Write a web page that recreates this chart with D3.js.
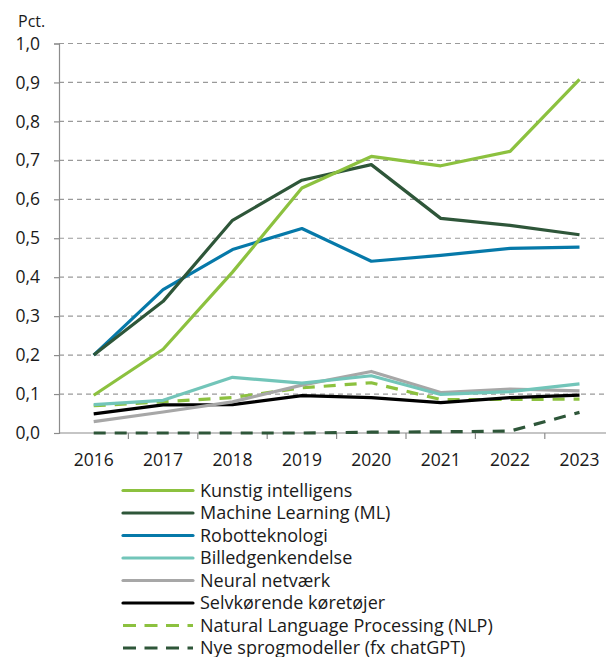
<!DOCTYPE html>
<html>
<head>
<meta charset="utf-8">
<script src="https://cdn.jsdelivr.net/npm/d3@7"></script>
<style>
  body { margin: 0; background: #fff; }
  svg { font-family: "Open Sans", "Noto Sans", sans-serif; }
</style>
</head>
<body>
<div id="chart"></div>
<script>
// Data
const years = ["2016", "2017", "2018", "2019", "2020", "2021", "2022", "2023"];
const yTicks = [0, 0.1, 0.2, 0.3, 0.4, 0.5, 0.6, 0.7, 0.8, 0.9, 1.0];

const kunstigIntelligens = [0.097, 0.215, 0.413, 0.629, 0.710, 0.686, 0.723, 0.908];
const machineLearning    = [0.200, 0.338, 0.546, 0.649, 0.689, 0.551, 0.533, 0.509];
const robotteknologi     = [0.200, 0.368, 0.471, 0.525, 0.441, 0.456, 0.474, 0.477];
const billedgenkendelse  = [0.073, 0.084, 0.143, 0.128, 0.147, 0.099, 0.106, 0.126];
const neuralNetvaerk     = [0.029, 0.054, 0.080, 0.123, 0.158, 0.104, 0.113, 0.108];
const selvkoerende       = [0.049, 0.072, 0.073, 0.096, 0.091, 0.078, 0.091, 0.097];
const nlp                = [0.070, 0.080, 0.091, 0.116, 0.129, 0.086, 0.086, 0.087];
const nyeSprogmodeller   = [0.000, 0.000, 0.000, 0.000, 0.002, 0.003, 0.005, 0.053];

const series = [
    { name: "Kunstig intelligens", values: kunstigIntelligens, color: "#8cc13f", dash: null },
    { name: "Machine Learning (ML)", values: machineLearning, color: "#2e5639", dash: null },
    { name: "Robotteknologi", values: robotteknologi, color: "#0679a9", dash: null },
    { name: "Billedgenkendelse", values: billedgenkendelse, color: "#72c5b9", dash: null },
    { name: "Neural netværk", values: neuralNetvaerk, color: "#a7a7a7", dash: null },
    { name: "Selvkørende køretøjer", values: selvkoerende, color: "#000000", dash: null },
    { name: "Natural Language Processing (NLP)", values: nlp, color: "#8cc13f", dash: "12,9" },
    { name: "Nye sprogmodeller (fx chatGPT)", values: nyeSprogmodeller, color: "#2e5639", dash: "12,9" }
];

const width = 606, height = 657;
const margin = { left: 59, top: 43.5, bottom: 433 };

const svg = d3.select("#chart").append("svg")
    .attr("width", width)
    .attr("height", height);

const x = d3.scaleBand()
    .domain(years)
    .range([margin.left, margin.left + 8 * 69.4]);

const y = d3.scaleLinear()
    .domain([0, 1])
    .range([margin.bottom, margin.top]);

// Gridlines
svg.append("g")
    .selectAll("line")
    .data(yTicks.filter(d => d > 0))
    .join("line")
    .attr("x1", margin.left)
    .attr("x2", width)
    .attr("y1", d => y(d))
    .attr("y2", d => y(d))
    .attr("stroke", "#9a9a9a")
    .attr("stroke-width", 1.2)
    .attr("stroke-dasharray", "5,4");

// Y axis
const yAxis = svg.append("g")
    .attr("transform", `translate(${margin.left},0)`)
    .call(d3.axisLeft(y).tickValues(yTicks).tickSize(5).tickPadding(14)
        .tickFormat(d => d3.format(".1f")(d).replace(".", ",")));
yAxis.select(".domain").attr("stroke", "#8c8c8c").attr("stroke-width", 1.2);
yAxis.selectAll(".tick line").attr("stroke", "#8c8c8c").attr("stroke-width", 1.2);
yAxis.selectAll("text").attr("font-size", 17.5).attr("fill", "#1a1a1a")
    .attr("font-family", "'Open Sans', 'Noto Sans', sans-serif");

svg.append("text")
    .attr("x", 18)
    .attr("y", 27)
    .attr("font-size", 16)
    .attr("fill", "#1a1a1a")
    .text("Pct.");

// X axis
const xAxis = svg.append("g")
    .attr("transform", `translate(0,${margin.bottom})`)
    .call(d3.axisBottom(x).tickSize(0).tickPadding(21));
xAxis.select(".domain").remove();
xAxis.selectAll("text").attr("font-size", 17.5).attr("fill", "#1a1a1a")
    .attr("font-family", "'Open Sans', 'Noto Sans', sans-serif");

svg.append("line")
    .attr("x1", margin.left).attr("x2", width)
    .attr("y1", margin.bottom).attr("y2", margin.bottom)
    .attr("stroke", "#8c8c8c").attr("stroke-width", 1.2);

// ticks between categories
svg.append("g")
    .selectAll("line")
    .data(years.slice(1))
    .join("line")
    .attr("x1", d => x(d))
    .attr("x2", d => x(d))
    .attr("y1", margin.bottom)
    .attr("y2", margin.bottom + 6)
    .attr("stroke", "#8c8c8c")
    .attr("stroke-width", 1.2);

// Lines
const line = d3.line()
    .x((d, i) => x(years[i]) + x.bandwidth() / 2)
    .y(d => y(d));

// draw back-to-front so the top series sits on top
svg.append("g")
    .selectAll("path")
    .data(series.slice().reverse())
    .join("path")
    .attr("d", d => line(d.values))
    .attr("fill", "none")
    .attr("stroke", d => d.color)
    .attr("stroke-width", 3.2)
    .attr("stroke-linejoin", "round")
    .attr("stroke-dasharray", d => d.dash);

// Legend
const legend = svg.append("g")
    .selectAll("g")
    .data(series)
    .join("g")
    .attr("transform", (d, i) => `translate(123,${490.5 + i * 22.5})`);

legend.append("line")
    .attr("x1", 0)
    .attr("x2", 70)
    .attr("stroke", d => d.color)
    .attr("stroke-width", 3.2)
    .attr("stroke-linecap", d => d.dash ? "butt" : "round")
    .attr("stroke-dasharray", d => d.dash ? "13,8.5" : null);

legend.append("text")
    .attr("x", 77)
    .attr("dy", "0.35em")
    .attr("font-size", 18)
    .attr("fill", "#1a1a1a")
    .text(d => d.name);
</script>
</body>
</html>
